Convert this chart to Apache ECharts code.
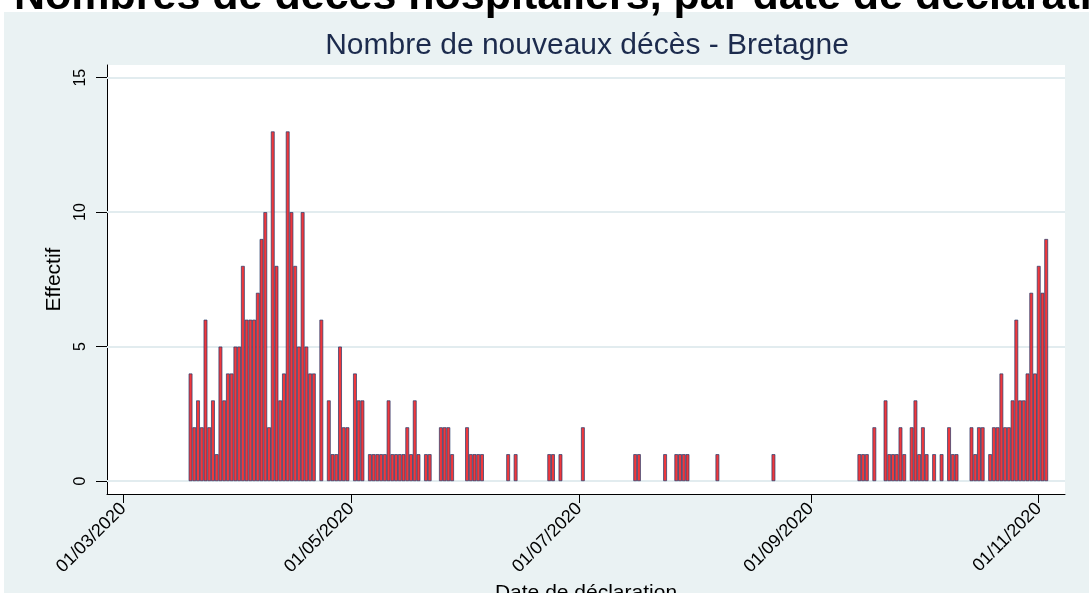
<!DOCTYPE html>
<html>
<head>
<meta charset="utf-8">
<script src="https://cdn.jsdelivr.net/npm/echarts@6/dist/echarts.min.js"></script>
<style>
html, body { margin: 0; padding: 0; background: #ffffff; }
#bg { position: absolute; left: 4px; top: 12px; width: 1085px; height: 581px; background: #eaf2f3; }
#c { position: absolute; left: 0; top: 0; width: 1089px; height: 593px; }
</style>
</head>
<body>
<div id="bg"></div>
<div id="c"></div>
<script>
// ---- data ----
const heading = 'Nombres de décès hospitaliers, par date de déclaration';
const chartTitle = 'Nombre de nouveaux décès - Bretagne';
const yAxisName = 'Effectif';
const xAxisName = 'Date de déclaration';
const firstDay = '2020-03-19';
// daily new hospital deaths, one value per day from firstDay (19/03/2020 .. 03/11/2020)
const deaths = [
  4,2,3,2,6,2,3,1,5,3,4,4,5,5,8,6,6,6,7,9,10,2,13,8,
  3,4,13,10,8,5,10,5,4,4,0,6,0,3,1,1,5,2,2,0,4,3,3,
  0,1,1,1,1,1,3,1,1,1,1,2,1,3,1,
  0,1,1,0,0,2,2,2,1,0,0,0,2,1,1,1,1,
  0,0,0,0,0,0,1,0,1,0,0,0,0,0,0,0,0,1,1,0,1,0,0,0,0,0,2,
  0,0,0,0,0,0,0,0,0,0,0,0,0,1,1,0,0,0,0,0,0,1,0,0,1,1,1,1,
  0,0,0,0,0,0,0,1,0,0,0,0,0,0,0,0,0,0,0,0,0,0,1,
  0,0,0,0,0,0,0,0,0,0,0,0,0,0,0,0,0,0,0,0,0,0,
  1,1,1,0,2,0,0,3,1,1,1,2,1,0,2,3,1,2,1,0,1,0,1,0,2,1,1,0,0,0,
  2,1,2,2,0,1,2,2,4,2,2,3,6,3,3,4,7,4,8,7,9
];
const xTickDates = ['2020-03-01', '2020-05-01', '2020-07-01', '2020-09-01', '2020-11-01'];
const xTickLabels = ['01/03/2020', '01/05/2020', '01/07/2020', '01/09/2020', '01/11/2020'];
const yTicks = [0, 5, 10, 15];

// ---- build (x = days since 01/03/2020) ----
const DAY = 86400000;
const toTs = s => Date.parse(s + 'T00:00:00Z');
const origin = toTs(xTickDates[0]);
const dayIdx = s => Math.round((toTs(s) - origin) / DAY);
const d0 = dayIdx(firstDay);
const seriesData = deaths.map((v, i) => [d0 + i, v === 0 ? '-' : v]);
const xTickPos = xTickDates.map(dayIdx);
const labelOf = {};
xTickPos.forEach((p, i) => { labelOf[p] = xTickLabels[i]; });
const FONT = '"Liberation Sans", Arial, Helvetica, sans-serif';

const chart = echarts.init(document.getElementById('c'), null, { renderer: 'canvas' });
chart.setOption({
  animation: false,
  textStyle: { fontFamily: FONT },
  title: {
    text: chartTitle,
    left: 587,
    top: 31,
    padding: 0,
    textAlign: 'center',
    textStyle: { fontSize: 30, fontWeight: 'normal', color: '#1c2b4d', fontFamily: FONT }
  },
  graphic: [{
    type: 'text',
    x: 14,
    y: -3,
    style: {
      text: heading,
      font: 'bold 43px "Liberation Sans", Arial, sans-serif',
      fill: '#000000',
      verticalAlign: 'middle',
      align: 'left'
    }
  }],
  grid: {
    left: 107, right: 24, top: 65, bottom: 99,
    outerBoundsMode: 'none',
    containLabel: false,
    show: true, backgroundColor: '#ffffff', borderWidth: 0
  },
  xAxis: {
    type: 'value',
    min: -4.36,
    max: 252.03,
    splitLine: { show: false },
    axisLine: { show: true, onZero: false, lineStyle: { color: '#000', width: 1 } },
    axisTick: { show: true, customValues: xTickPos, length: 9, lineStyle: { color: '#000', width: 1 } },
    axisLabel: {
      customValues: xTickPos,
      rotate: 45,
      margin: 12,
      fontSize: 18,
      color: '#000',
      fontFamily: FONT,
      formatter: v => labelOf[v] || ''
    },
    name: xAxisName,
    nameLocation: 'middle',
    nameGap: 87,
    nameTextStyle: { fontSize: 21, color: '#000', fontFamily: FONT }
  },
  yAxis: {
    type: 'value',
    min: -0.48,
    max: 15.47,
    splitLine: { show: false },
    axisLine: { show: true, onZero: false, lineStyle: { color: '#000', width: 1 } },
    axisTick: { show: true, customValues: yTicks, length: 11, lineStyle: { color: '#000', width: 1 } },
    axisLabel: {
      customValues: yTicks,
      rotate: 90,
      margin: 18,
      fontSize: 16,
      color: '#000',
      fontFamily: FONT
    },
    name: yAxisName,
    nameLocation: 'middle',
    nameGap: 42,
    nameTextStyle: { fontSize: 21, color: '#000', fontFamily: FONT }
  },
  series: [{
    type: 'bar',
    data: seriesData,
    barWidth: '100%',
    itemStyle: { color: '#f0383c', borderColor: '#22396a', borderWidth: 0.7 },
    markLine: {
      silent: true,
      z: 1,
      symbol: ['none', 'none'],
      label: { show: false },
      lineStyle: { color: '#e2ecef', width: 1.8, type: 'solid' },
      data: yTicks.map(v => ({ yAxis: v }))
    }
  }]
});
</script>
</body>
</html>
